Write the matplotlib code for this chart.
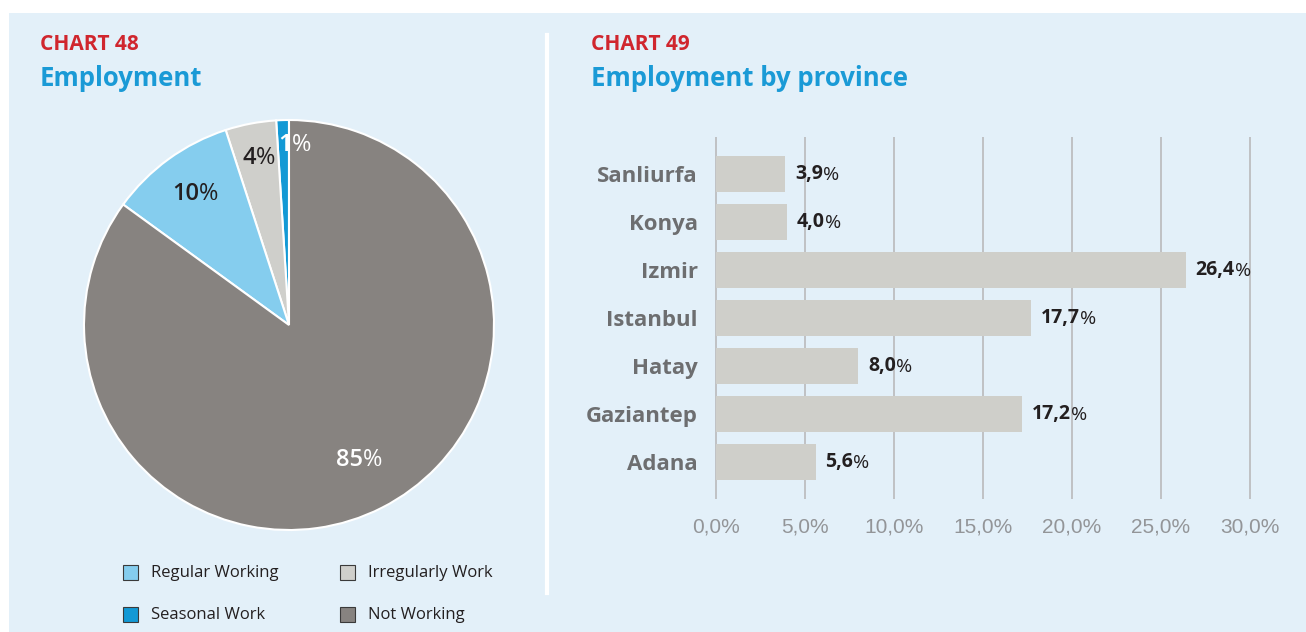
import numpy as np
import matplotlib.pyplot as plt
from matplotlib.patches import Rectangle

plt.rcParams['font.family'] = ['Open Sans', 'DejaVu Sans']

# Chart 48 - employment status shares
status_labels = ['Seasonal Work', 'Irregularly Work', 'Regular Working', 'Not Working']
status_values = [1, 4, 10, 85]
status_colors = ['#1399d5', '#cfcfcb', '#85cdee', '#878380']
status_text_colors = ['white', '#231f20', '#231f20', 'white']
status_label_radius = [0.88, 0.83, 0.79, 0.74]
status_label_shift = [1, -6, -6, -6]

# Chart 49 - employment by province (%)
provinces = ['Sanliurfa', 'Konya', 'Izmir', 'Istanbul', 'Hatay', 'Gaziantep', 'Adana']
province_values = [3.9, 4.0, 26.4, 17.7, 8.0, 17.2, 5.6]
xticks = [0, 5, 10, 15, 20, 25, 30]

BG = '#e3f0f9'
RED = '#d0262e'
BLUE = '#1a9ad6'
DARK = '#231f20'

W, H = 1306, 632
fig = plt.figure(figsize=(W / 100, H / 100), dpi=100)
fig.patch.set_facecolor('white')


def fx(px):
    return px / W


def fy(py):
    return 1 - py / H


# light blue panel and the white divider
fig.patches.append(Rectangle((fx(9), 0), 1 - fx(9), fy(13), transform=fig.transFigure,
                             facecolor=BG, edgecolor='none', zorder=-5))
fig.add_artist(plt.Line2D([fx(547), fx(547)], [fy(35), fy(593)], color='white', lw=3))


def pct_text(ax, x, y, number, color, size, weight='bold', **kw):
    # number followed by a regular-weight percent sign
    t = ax.annotate(number, xy=(x, y), color=color, fontsize=size, fontweight=weight,
                    va='center', **kw)
    ax.annotate('%', xy=(1, 0), xycoords=t, color=color, fontsize=size,
                va='bottom', ha='left')
    return t


# titles
for x0, num, title in [(40, '48', 'Employment'), (591, '49', 'Employment by province')]:
    fig.text(fx(x0), fy(45), 'CHART ' + num, color=RED, fontsize=15, fontweight='bold',
             va='center', ha='left')
    fig.text(fx(x0), fy(78), title, color=BLUE, fontsize=18.5, fontweight='bold',
             va='center', ha='left')

# ---- pie ----
pax = fig.add_axes([fx(84), fy(530), fx(410), 410 / H])
pax.set_facecolor('none')
wedges, _ = pax.pie(status_values, colors=status_colors, startangle=90, counterclock=True,
                    wedgeprops=dict(edgecolor='white', linewidth=1.5))
pax.set_xlim(-1, 1)
pax.set_ylim(-1, 1)
pax.set_aspect('auto')
pax.axis('off')
for w, v, c, r, dx in zip(wedges, status_values, status_text_colors,
                          status_label_radius, status_label_shift):
    ang = np.deg2rad((w.theta1 + w.theta2) / 2)
    pct_text(pax, r * np.cos(ang), r * np.sin(ang), str(v), c, 17, weight='semibold',
             ha='center', xytext=(dx, 0), textcoords='offset points')

# legend
legend_items = [('Regular Working', 2, 123, 573), ('Irregularly Work', 1, 340, 573),
                ('Seasonal Work', 0, 123, 615), ('Not Working', 3, 340, 615)]
for name, idx, lx, ly in legend_items:
    fig.patches.append(Rectangle((fx(lx), fy(ly + 7)), fx(15), 15 / H, transform=fig.transFigure,
                                 facecolor=status_colors[idx], edgecolor='#3a3a3a', lw=0.8))
    fig.text(fx(lx + 28), fy(ly), name, color=DARK, fontsize=12, va='center', ha='left')

# ---- bars ----
bax = fig.add_axes([fx(716), fy(499), fx(534), 362 / H])
bax.set_facecolor('none')
ypos = np.arange(len(provinces))
bax.barh(ypos, province_values, height=0.75, color='#cfcfca', zorder=2)
bax.set_xlim(0, 30)
bax.set_ylim(len(provinces) - 1 + 0.76, -0.76)
bax.vlines(xticks, *bax.get_ylim(), color='#bdbec0', lw=1.3, zorder=1, clip_on=False)
for s in bax.spines.values():
    s.set_visible(False)
bax.set_yticks(ypos)
bax.set_yticklabels(provinces, fontsize=16, fontweight='bold', color='#6d6e70')
bax.set_xticks(xticks)
bax.set_xticklabels([f'{t:.1f}%'.replace('.', ',') for t in xticks], fontsize=15,
                    color='#939598', family='Liberation Sans')
bax.tick_params(length=0)
bax.tick_params(axis='y', pad=13)
bax.tick_params(axis='x', pad=13)
for y, v in zip(ypos, province_values):
    pct_text(bax, v, y, f'{v:.1f}'.replace('.', ','), DARK, 14, ha='left',
             xytext=(7, 0), textcoords='offset points')

fig.savefig('out.png', dpi=100, facecolor='white')
